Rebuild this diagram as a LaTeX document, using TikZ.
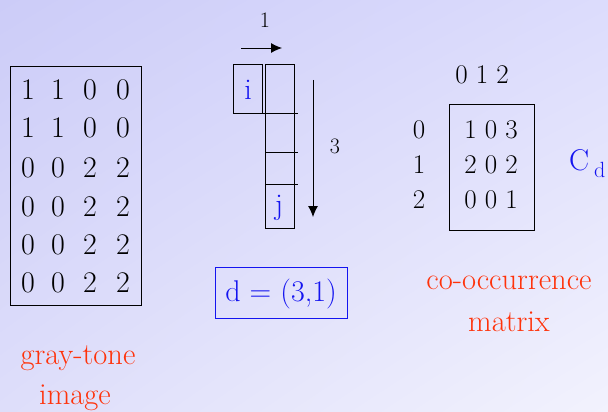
\documentclass[tikz,border=0pt]{standalone}
\usetikzlibrary{arrows.meta,shadings}
\definecolor{bgUL}{RGB}{204,204,248}
\definecolor{bgUR}{RGB}{220,220,252}
\definecolor{bgLL}{RGB}{222,222,250}
\definecolor{bgLR}{RGB}{242,242,253}
\definecolor{txtblue}{RGB}{20,20,240}
\definecolor{txtred}{RGB}{255,50,10}
\begin{document}
\begin{tikzpicture}[x=1pt,y=-1pt,
  num/.style={font=\fontsize{30}{30}\selectfont, inner sep=0pt, anchor=center},
  mnum/.style={font=\fontsize{27}{27}\selectfont, inner sep=0pt, anchor=center},
  small/.style={font=\fontsize{22}{22}\selectfont, inner sep=0pt, anchor=center},
  redtxt/.style={font=\fontsize{30.5}{30.5}\selectfont, text=txtred, inner sep=0pt, anchor=center},
  bluetxt/.style={font=\fontsize{30}{30}\selectfont, text=txtblue, inner sep=0pt, anchor=center},
  box/.style={draw=black, line width=0.8pt},
  arr/.style={-{Latex[length=11pt,width=10pt]}, line width=0.9pt}]
\shade[upper left=bgUL, upper right=bgUR, lower left=bgLL, lower right=bgLR] (0,0) rectangle (608,412);
\useasboundingbox (0,0) rectangle (608,412);
% gray-tone matrix
\node[box, minimum width=131, minimum height=239, inner sep=0pt] (gm) at (75.5,185.5) {};
\foreach \r/\a/\b/\c/\d [count=\i] in {90/1/1/0/0,128/1/1/0/0,168/0/0/2/2,207/0/0/2/2,245/0/0/2/2,283/0/0/2/2}{
  \node[num] (g\i a) at (28,\r) {\a};
  \node[num] (g\i b) at (58,\r) {\b};
  \node[num] (g\i c) at (90,\r) {\c};
  \node[num] (g\i d) at (123,\r) {\d};
}
\node[redtxt] (gt1) at (78,358) {gray-tone};
\node[redtxt] (gt2) at (75,398) {image};
% displacement
\node[small] (one) at (265,20) {1};
\coordinate (ha) at (241,48);
\coordinate (hb) at (282,48);
\draw[arr] (ha) -- (hb);
\node[box, minimum width=29, minimum height=49, inner sep=0pt] (ibox) at (247.5,88.5) {};
\node[bluetxt] (i) at (248,90) {i};
\node[box, minimum width=29, minimum height=164, inner sep=0pt] (col) at (279.5,146) {};
\coordinate (l1a) at (257,113); \coordinate (l1b) at (298,113);
\coordinate (l2a) at (265,152); \coordinate (l2b) at (298,152);
\coordinate (l3a) at (265,184); \coordinate (l3b) at (298,184);
\draw[line width=0.8pt] (l1a) -- (l1b) (l2a) -- (l2b) (l3a) -- (l3b);
\node[bluetxt] (j) at (279,208) {j};
\coordinate (va) at (313,80);
\coordinate (vb) at (313,217);
\draw[arr] (va) -- (vb);
\node[small] (three) at (335,146) {3};
\node[draw=txtblue, line width=0.8pt, minimum width=132, minimum height=51, inner sep=0pt] (dbox) at (281,292.5) {};
\node[bluetxt] (d) at (281,294) {d = (3,1)};
% co-occurrence matrix
\node[mnum] (hdr) at (482,75) {0 1 2};
\node[box, minimum width=85, minimum height=126, inner sep=0pt] (cm) at (491.5,167) {};
\foreach \r/\l/\v [count=\i] in {130/0/1 0 3,165/1/2 0 2,200/2/0 0 1}{
  \node[mnum] (rl\i) at (419,\r) {\l};
  \node[mnum] (cv\i) at (491,\r) {\v};
}
\node[bluetxt, anchor=base west] (cd) at (569,170) {C\,\raisebox{-7pt}{\fontsize{22}{22}\selectfont d}};
\node[redtxt] (co1) at (509,283) {co-occurrence};
\node[redtxt] (co2) at (509,322) {matrix};
\end{tikzpicture}
\end{document}
